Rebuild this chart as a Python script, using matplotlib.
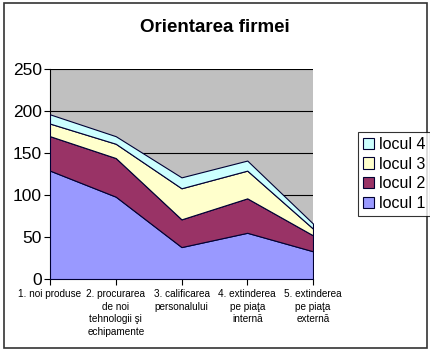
import numpy as np
import matplotlib.pyplot as plt
from matplotlib.patches import Rectangle

plt.rcParams['font.family'] = ['Liberation Sans', 'DejaVu Sans']

categories = ["1. noi produse",
              "2. procurarea\nde noi\ntehnologii şi\nechipamente",
              "3. calificarea\npersonalului",
              "4. extinderea\npe piaţa\ninternă",
              "5. extinderea\npe piaţa\nexternă"]
locul1 = [129, 98, 38, 55, 33]
locul2 = [41, 46, 33, 41, 19]
locul3 = [15, 17, 37, 33, 8]
locul4 = [11, 9, 13, 12, 6]
names = ["locul 1", "locul 2", "locul 3", "locul 4"]
colors = ["#9999FF", "#993366", "#FFFFCC", "#CCFFFF"]

fig = plt.figure(figsize=(4.30, 3.51), dpi=100)
ax = fig.add_axes([50/430, 1-279/351, 263/430, 210/351])
ax.set_facecolor("#C0C0C0")

x = np.arange(len(categories))
polys = ax.stackplot(x, locul1, locul2, locul3, locul4, colors=colors,
                     edgecolor="#000033", linewidth=0.8, labels=names, zorder=3)

ax.set_xlim(0, len(categories)-1)
ax.set_ylim(0, 250)
ax.set_yticks(range(0, 251, 50))
ax.yaxis.grid(True, color="black", linewidth=0.8, zorder=1)
ax.set_axisbelow(True)
ax.set_xticks(x)
ax.set_xticklabels(categories, fontsize=7.2, linespacing=1.35, va="top")
ax.tick_params(axis="y", labelsize=12.5, direction="out", length=4, pad=2, colors="#000000")
ax.tick_params(axis="x", direction="out", length=4, pad=3)
for s in ["top", "right"]:
    ax.spines[s].set_visible(False)
ax.spines["left"].set_color("black")
ax.spines["bottom"].set_color("black")

fig.text(0.5, 1-27/351, "Orientarea firmei", ha="center", va="center",
         fontsize=13.5, fontweight="bold")

h, l = ax.get_legend_handles_labels()
leg = fig.legend(h[::-1], l[::-1], loc="upper left",
                 bbox_to_anchor=(358/430, 1-132/351), fontsize=11.5,
                 frameon=True, fancybox=False, edgecolor="black",
                 handlelength=0.7, handleheight=0.7, handletextpad=0.3,
                 borderpad=0.3, labelspacing=0.3, borderaxespad=0)
leg.get_frame().set_linewidth(0.8)

fig.patches.append(Rectangle((4/430, 3/351), 423/430, 345/351,
                             transform=fig.transFigure, fill=False,
                             edgecolor="#333333", linewidth=1.2))

fig.savefig("out.png", dpi=100)
